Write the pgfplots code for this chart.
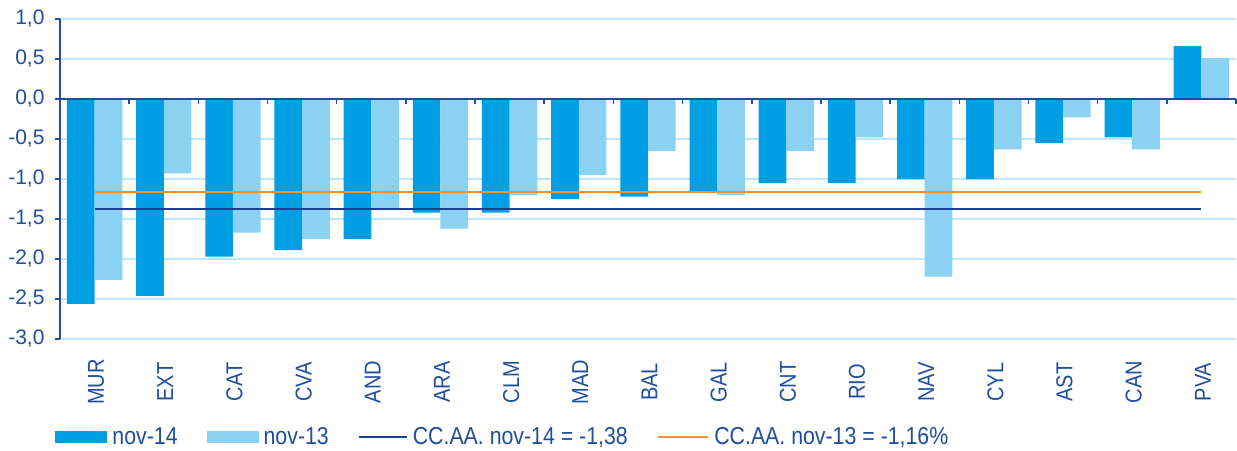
\documentclass[border=0pt]{standalone}
\usepackage{fontspec}
\setmainfont{Liberation Sans}
\newfontfamily\cond[FakeStretch=0.87]{Liberation Sans}
\usepackage{pgfplots}
\pgfplotsset{compat=1.18}
\definecolor{barA}{HTML}{009FE3}
\definecolor{barB}{HTML}{8BD1F1}
\definecolor{navy}{HTML}{1D3F94}
\definecolor{orng}{HTML}{F0922D}
\definecolor{txt}{HTML}{1F4E9F}
\definecolor{gridc}{HTML}{BDE7F8}
\pgfplotstableread{
x y
0 -2.56
1 -2.46
2 -1.97
3 -1.89
4 -1.75
5 -1.42
6 -1.42
7 -1.25
8 -1.22
9 -1.17
10 -1.05
11 -1.05
12 -1.00
13 -1.00
14 -0.55
15 -0.48
16 0.66
}\novA
\pgfplotstableread{
x y
0 -2.26
1 -0.93
2 -1.67
3 -1.75
4 -1.39
5 -1.62
6 -1.20
7 -0.95
8 -0.65
9 -1.20
10 -0.65
11 -0.48
12 -2.22
13 -0.63
14 -0.23
15 -0.63
16 0.51
}\novB
\begin{document}
\begin{tikzpicture}
\path[use as bounding box] (-60bp,-112bp) rectangle (1177bp,339bp);
\begin{axis}[
  at={(0,0)}, anchor=south west,
  scale only axis, width=1176bp, height=320bp,
  xmin=-0.5, xmax=16.5, ymin=-3, ymax=1,
  font=\fontsize{21bp}{25bp}\selectfont,
  axis x line*=bottom, axis y line*=left,
  x axis line style={draw=none},
  y axis line style={draw=txt, line width=1.5bp},
  ytick={-3,-2.5,...,1},
  ymajorgrids, grid style={gridc, line width=1.5bp},
  tick align=outside, major tick length=5bp,
  ytick style={draw=txt, line width=1.5bp},
  xtick=data, xtick style={draw=none},
  xticklabels={MUR,EXT,CAT,CVA,AND,ARA,CLM,MAD,BAL,GAL,CNT,RIO,NAV,CYL,AST,CAN,PVA},
  xticklabel style={yshift=-38bp, xshift=1.5bp, rotate=90, anchor=center, inner sep=0pt, text=txt, font=\cond\fontsize{23bp}{27bp}\selectfont},
  yticklabel style={text=txt, xshift=-7bp},
  /pgf/number format/.cd, fixed, fixed zerofill, precision=1, use comma, assume math mode=true,
  /pgfplots/.cd,
  ybar=0pt, bar width=0.4,
  legend columns=4,
  legend style={at={(-0.004,-0.306)}, anchor=west, draw=none, fill=none,
    inner sep=0pt, text=txt, font=\cond\fontsize{24.5bp}{28bp}\selectfont,
    /tikz/every odd column/.style={column sep=3bp},
    /tikz/every even column/.style={column sep=27bp}},
  clip=false,
]
\addplot[fill=barA, draw=none, legend image code/.code={\fill[barA] (0bp,-6bp) rectangle (52bp,6bp);}] table[x=x,y=y] {\novA};
\addlegendentry{nov-14}
\addplot[fill=barB, draw=none, legend image code/.code={\fill[barB] (0bp,-6bp) rectangle (52bp,6bp);}] table[x=x,y=y] {\novB};
\addlegendentry{nov-13}
\addplot[sharp plot, navy, line width=2bp, forget plot] coordinates {(0,-1.38) (16,-1.38)};
\addplot[sharp plot, orng, line width=2.5bp, forget plot] coordinates {(0,-1.16) (16,-1.16)};
\addlegendimage{navy, line width=2bp, legend image code/.code={\draw[navy, line width=2bp] (0bp,0bp) -- (48bp,0bp);}}
\addlegendentry{CC.AA. nov-14 = -1,38}
\addlegendimage{orng, line width=2.5bp, legend image code/.code={\draw[orng, line width=2.5bp] (0bp,0bp) -- (50bp,0bp);}}
\addlegendentry{CC.AA. nov-13 = -1,16\%}
\draw[txt, line width=2bp] (axis cs:-0.5,0) -- (axis cs:16.5,0);
\pgfplotsinvokeforeach{0,...,16}{\draw[txt, line width=1.5bp] (axis cs:#1+0.5,0) -- ++(0pt,-5bp);}
\end{axis}
\end{tikzpicture}
\end{document}
